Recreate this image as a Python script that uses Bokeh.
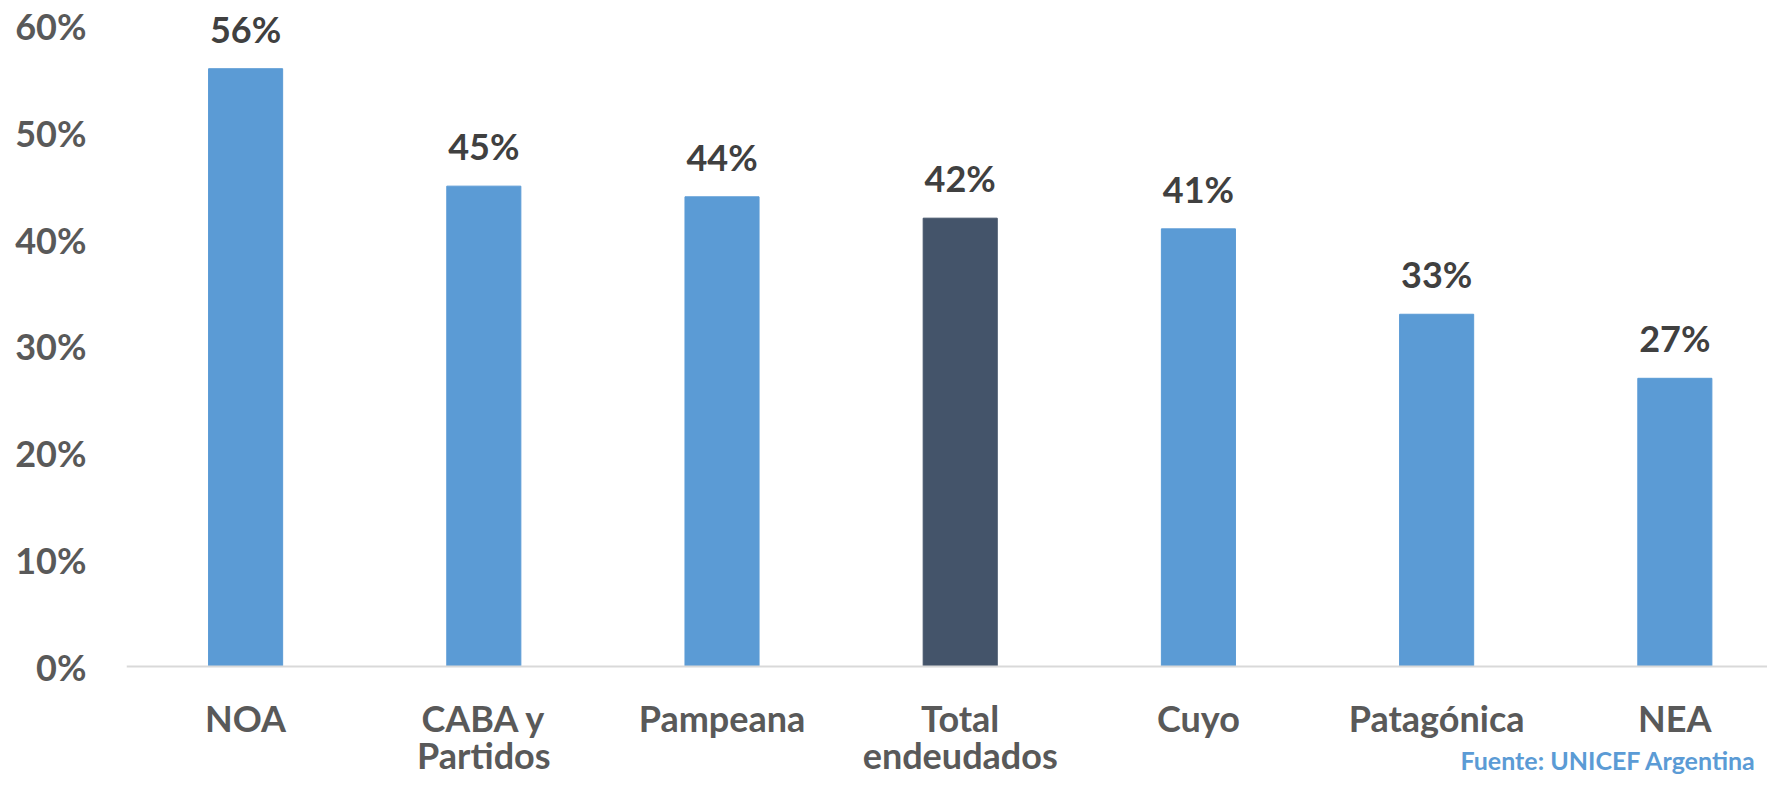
from bokeh.plotting import figure
from bokeh.models import ColumnDataSource, NumeralTickFormatter, Range1d, Span
from bokeh.core.properties import value
from bokeh.embed import file_html
from bokeh.resources import INLINE

categories = ["NOA", "CABA y\nPartidos", "Pampeana", "Total\nendeudados", "Cuyo", "Patagónica", "NEA"]
values = [0.56, 0.45, 0.44, 0.42, 0.41, 0.33, 0.27]
bar_colors = ["#5B9BD5", "#5B9BD5", "#5B9BD5", "#44546A", "#5B9BD5", "#5B9BD5", "#5B9BD5"]
value_labels = ["56%", "45%", "44%", "42%", "41%", "33%", "27%"]
y_ticks = [0, 0.1, 0.2, 0.3, 0.4, 0.5, 0.6]
source_text = ["Fuente: UNICEF Argentina"]

FONT = "Lato"

xpos = [i + 0.5 for i in range(len(categories))]
src = ColumnDataSource(dict(x=xpos, cat=categories, val=values, color=bar_colors, lab=value_labels,
                            base=[0] * len(categories)))

p = figure(x_range=Range1d(0, 6.889), y_range=Range1d(-0.103, 0.6239), width=1767, height=776,
           output_backend="svg", toolbar_location=None,
           min_border_left=126, min_border_right=0, min_border_top=0, min_border_bottom=0)

p.add_layout(Span(location=0, dimension="width", line_color="#D9D9D9", line_width=2))
p.vbar(x="x", top="val", width=0.311, color="color", source=src)
p.text(x="x", y="val", text="lab", source=src, text_align="center", text_baseline="bottom",
       y_offset=-18, text_font=value(FONT), text_font_style="bold", text_font_size="36px",
       text_color="#404040")
p.text(x="x", y="base", text="cat", source=src, text_align="center", text_baseline="top",
       y_offset=29, text_font=value(FONT), text_font_style="bold", text_font_size="36px",
       text_color="#595959", text_line_height=0.85)
p.text(x=[5.60], y=[-0.103], text=source_text, text_align="left", text_baseline="bottom",
       y_offset=-2, text_font=value(FONT), text_font_style="bold", text_font_size="25px",
       text_color="#5B9BD5")

p.outline_line_color = None
p.xgrid.grid_line_color = None
p.ygrid.grid_line_color = None
p.xaxis.visible = False

p.yaxis.ticker = y_ticks
p.yaxis.formatter = NumeralTickFormatter(format="0%")
p.yaxis.axis_line_color = None
p.yaxis.major_tick_line_color = None
p.yaxis.minor_tick_line_color = None
p.yaxis.major_label_standoff = 34
p.yaxis.major_label_text_font = FONT
p.yaxis.major_label_text_font_style = "bold"
p.yaxis.major_label_text_font_size = "36px"
p.yaxis.major_label_text_color = "#595959"

open("out.html", "w").write(file_html(p, INLINE))
